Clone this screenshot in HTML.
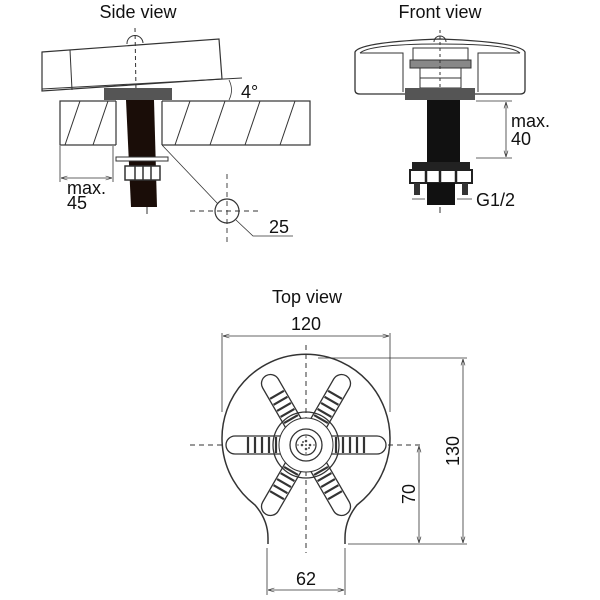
<!DOCTYPE html>
<html><head><style>body{margin:0;background:#fff}svg{display:block}text{font-family:"Liberation Sans",sans-serif;fill:#111}</style></head>
<body>
<svg width="600" height="600" viewBox="0 0 600 600" xmlns="http://www.w3.org/2000/svg">
<defs>
<marker id="a" markerWidth="8" markerHeight="6" refX="8" refY="3" orient="auto-start-reverse"><path d="M0,0.5 L8,3 L0,5.5" fill="none" stroke="#333" stroke-width="0.8"/></marker>
<g id="arm">
<rect x="318" y="436" width="68" height="18" rx="9" fill="#fff" stroke="#333" stroke-width="1.3"/>
<path d="M336,437V453M343,437V453M350,437V453M357,437V453M364,437V453" stroke="#333" stroke-width="2.2"/>
</g>
</defs>

<!-- SIDE VIEW -->
<text x="138" y="18" font-size="18" text-anchor="middle">Side view</text>
<path d="M42,52 L219,39 L222,79 L42,91 Z" fill="#fff" stroke="#333" stroke-width="1.2"/>
<line x1="70" y1="50" x2="72" y2="90" stroke="#333"/>
<path d="M42,89 L242,78" stroke="#333"/>
<path d="M127,44 A8,8 0 0 1 143,43" fill="none" stroke="#333"/>
<line x1="135" y1="28" x2="136" y2="92" stroke="#333" stroke-dasharray="4,3"/>
<path d="M229,80 Q234,90 229,100" fill="none" stroke="#333" stroke-width="0.8"/>
<text x="241" y="98" font-size="18">4°</text>
<rect x="104" y="88" width="68" height="12" fill="#555"/>
<rect x="60" y="101" width="250" height="44" fill="#fff" stroke="#333" stroke-width="1.2"/>
<rect x="116" y="100" width="46" height="46" fill="#fff" stroke="none"/>
<line x1="116" y1="101" x2="116" y2="145" stroke="#333" stroke-width="1.2"/>
<line x1="162" y1="101" x2="162" y2="145" stroke="#333" stroke-width="1.2"/>
<g stroke="#333" stroke-width="1">
<line x1="65" y1="145" x2="80" y2="101"/><line x1="93" y1="145" x2="108" y2="101"/>
<line x1="175" y1="145" x2="190" y2="101"/><line x1="210" y1="145" x2="225" y2="101"/>
<line x1="245" y1="145" x2="260" y2="101"/><line x1="280" y1="145" x2="295" y2="101"/>
</g>
<path d="M126,100 L154,100 L157,207 L131,207 Z" fill="#1a0d08"/>
<rect x="116" y="157" width="52" height="4" fill="#fff" stroke="#333"/>
<rect x="125" y="166" width="35" height="14" fill="#fff" stroke="#333" stroke-width="1.5"/>
<path d="M135,166V180M143,166V180M151,166V180" stroke="#333" stroke-width="1.5"/>
<line x1="147" y1="207" x2="147" y2="214" stroke="#333"/>
<path d="M60,146V182M113,146V182" stroke="#333" stroke-width="0.8"/>
<line x1="61" y1="178" x2="112" y2="178" stroke="#333" stroke-width="0.8" marker-start="url(#a)" marker-end="url(#a)"/>
<text x="67" y="194" font-size="18">max.</text>
<text x="67" y="209" font-size="18">45</text>
<line x1="162" y1="145" x2="218" y2="204" stroke="#333" stroke-width="0.8"/>
<circle cx="227" cy="211" r="12" fill="#fff" stroke="#333" stroke-width="1.2"/>
<path d="M227,174V246M190,211H262" stroke="#333" stroke-dasharray="5,4" stroke-width="0.9"/>
<path d="M236,220 L253,236 L293,236" fill="none" stroke="#333" stroke-width="0.8"/>
<text x="269" y="233" font-size="18">25</text>

<!-- FRONT VIEW -->
<text x="440" y="18" font-size="18" text-anchor="middle">Front view</text>
<path d="M355,52 Q360,42 440,39 Q520,42 525,52 L525,90 Q525,94 520,94 L360,94 Q355,94 355,90 Z" fill="#fff" stroke="#333" stroke-width="1.3"/>
<path d="M360,53 L403,53 L403,92 M520,53 L478,53 L478,92 M360,53 Q370,44 440,44 Q510,44 520,53" fill="none" stroke="#333"/>
<path d="M434,42 A6,6 0 0 1 446,42" fill="none" stroke="#333"/>
<rect x="413" y="48" width="55" height="12" fill="#fff" stroke="#333"/>
<rect x="410" y="60" width="61" height="8" fill="#888" stroke="#333"/>
<rect x="420" y="68" width="41" height="10" fill="#fff" stroke="#333"/>
<rect x="420" y="78" width="41" height="10" fill="#fff" stroke="#333"/>
<line x1="440" y1="30" x2="440" y2="92" stroke="#333" stroke-dasharray="3,3"/>
<rect x="405" y="88" width="70" height="12" fill="#555"/>
<rect x="427" y="100" width="33" height="62" fill="#111"/>
<path d="M412,162 L470,162 L470,170 L412,170 Z" fill="#222"/>
<rect x="410" y="170" width="62" height="13" fill="#fff" stroke="#222" stroke-width="2"/>
<path d="M426,170V183M440,170V183M456,170V183" stroke="#222" stroke-width="2.5"/>
<rect x="414" y="183" width="6" height="12" fill="#333"/>
<rect x="462" y="183" width="6" height="12" fill="#333"/>
<rect x="427" y="183" width="28" height="22" fill="#111"/>
<path d="M412,199H425M457,199H472" stroke="#333" stroke-width="0.8"/>
<line x1="440" y1="207" x2="440" y2="213" stroke="#333"/>
<text x="476" y="206" font-size="18">G1/2</text>
<path d="M476,101H512M476,158H512" stroke="#333" stroke-width="0.8"/>
<line x1="506" y1="102" x2="506" y2="157" stroke="#333" stroke-width="0.8" marker-start="url(#a)" marker-end="url(#a)"/>
<text x="511" y="127" font-size="18">max.</text>
<text x="511" y="145" font-size="18">40</text>

<!-- TOP VIEW -->
<text x="307" y="303" font-size="18" text-anchor="middle">Top view</text>
<text x="306" y="330" font-size="18" text-anchor="middle">120</text>
<path d="M222,333V412M390,333V412" stroke="#333" stroke-width="0.8"/>
<line x1="223" y1="336" x2="389" y2="336" stroke="#333" stroke-width="0.8" marker-start="url(#a)" marker-end="url(#a)"/>
<path d="M268,544 L268,538 Q268,520 255,505 A84,84 0 1 1 357,505 Q345,520 345,538 L345,544" fill="#fff" stroke="#333" stroke-width="1.5"/>
<path d="M306,345V553M190,445H420" stroke="#333" stroke-dasharray="5,4" stroke-width="1"/>
<use href="#arm"/>
<use href="#arm" transform="rotate(60 306 445)"/>
<use href="#arm" transform="rotate(120 306 445)"/>
<use href="#arm" transform="rotate(180 306 445)"/>
<use href="#arm" transform="rotate(240 306 445)"/>
<use href="#arm" transform="rotate(300 306 445)"/>
<circle cx="306" cy="445" r="33" fill="none" stroke="#333" stroke-width="1.3"/>
<circle cx="306" cy="445" r="27" fill="#fff" stroke="#333" stroke-width="1"/>
<circle cx="306" cy="445" r="16" fill="#fff" stroke="#333" stroke-width="1.3"/>
<circle cx="306" cy="445" r="10" fill="#fff" stroke="#333" stroke-width="1.3"/>
<g fill="#555"><circle cx="306" cy="441" r="1.3"/><circle cx="306" cy="449" r="1.3"/><circle cx="302" cy="445" r="1.3"/><circle cx="310" cy="445" r="1.3"/><circle cx="303" cy="442" r="1"/><circle cx="309" cy="448" r="1"/></g>
<path d="M306,436V454M297,445H315" stroke="#333" stroke-dasharray="2,2" stroke-width="0.8"/>
<path d="M318,358H467M348,544H467" stroke="#333" stroke-width="0.8"/>
<line x1="463" y1="359" x2="463" y2="543" stroke="#333" stroke-width="0.8" marker-start="url(#a)" marker-end="url(#a)"/>
<text transform="translate(459,451) rotate(-90)" font-size="18" text-anchor="middle">130</text>
<line x1="419" y1="446" x2="419" y2="543" stroke="#333" stroke-width="0.8" marker-start="url(#a)" marker-end="url(#a)"/>
<text transform="translate(415,494) rotate(-90)" font-size="18" text-anchor="middle">70</text>
<path d="M267,548V595M345,548V595" stroke="#333" stroke-width="0.8"/>
<line x1="268" y1="590" x2="344" y2="590" stroke="#333" stroke-width="0.8" marker-start="url(#a)" marker-end="url(#a)"/>
<text x="306" y="585" font-size="18" text-anchor="middle">62</text>
</svg>
</body></html>
